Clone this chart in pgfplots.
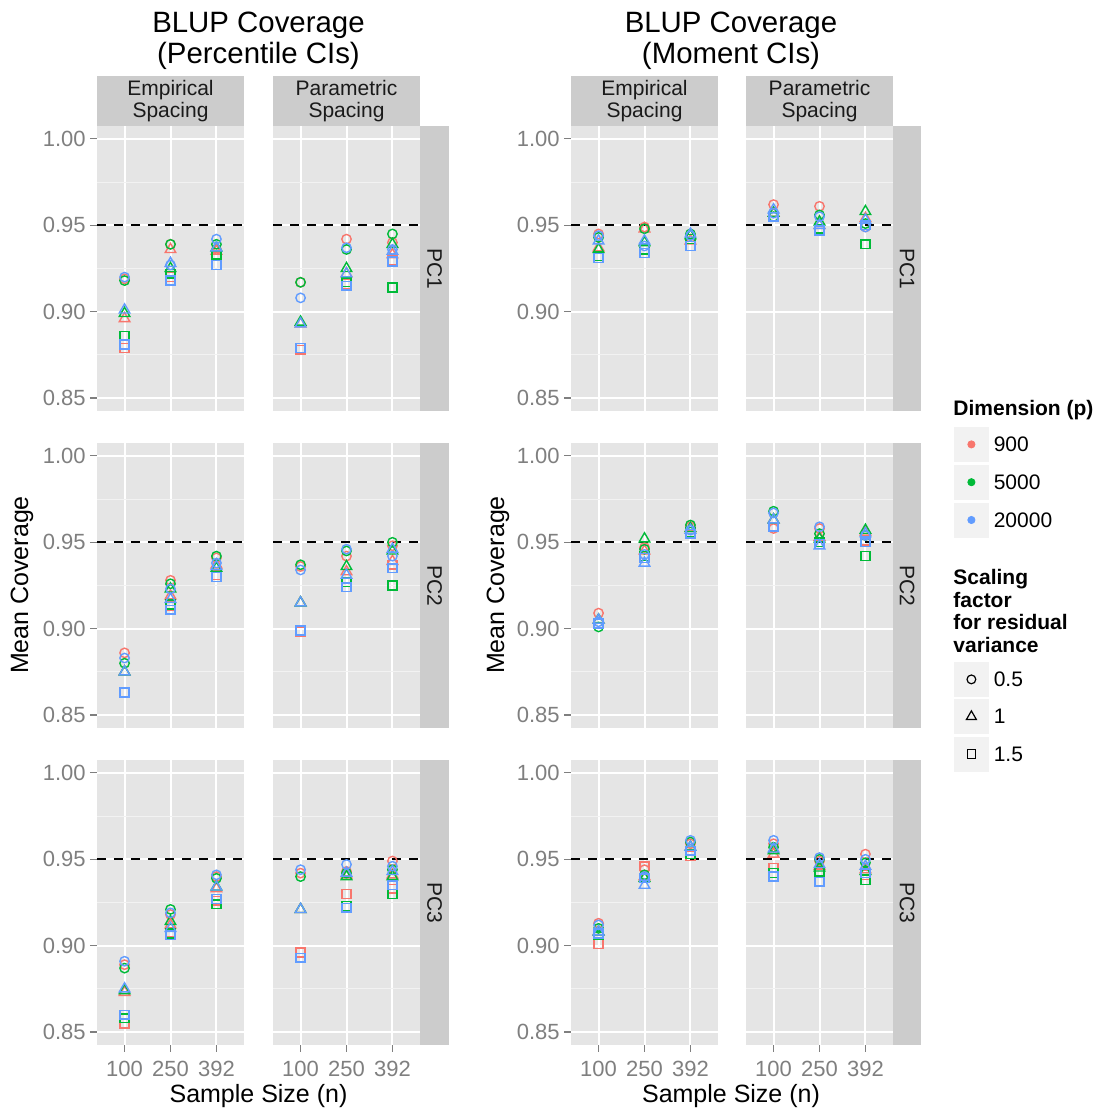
\documentclass[border=0pt]{standalone}
\usepackage{pgfplots}
\pgfplotsset{compat=1.18}
\usepackage{pgfplotstable}
\usepackage{fontspec}
\setmainfont{Liberation Sans}

\definecolor{ggred}{HTML}{F8766D}
\definecolor{gggreen}{HTML}{00BA38}
\definecolor{ggblue}{HTML}{619CFF}
\definecolor{ggpanel}{HTML}{E5E5E5}
\definecolor{ggstrip}{HTML}{CCCCCC}
\definecolor{ggminor}{HTML}{F2F2F2}
\definecolor{ggtick}{HTML}{7F7F7F}
\definecolor{ggstext}{HTML}{1A1A1A}

\newcommand{\fsm}{\fontsize{10.5}{12}\selectfont}
\newcommand{\ftk}{\fontsize{11}{12}\selectfont}
\newcommand{\fax}{\fontsize{12.5}{15}\selectfont}
\newcommand{\fti}{\fontsize{14.7}{16}\selectfont}

% columns: x, red circle/triangle/square, green ..., blue ...
\pgfplotstableread{
x rc rt rs gc gt gs bc bt bs
1 0.919 0.896 0.879 0.918 0.899 0.886 0.920 0.901 0.881
2 0.939 0.936 0.920 0.939 0.925 0.922 0.927 0.928 0.918
3 0.936 0.935 0.932 0.939 0.937 0.933 0.942 0.937 0.927
}\pEa
\pgfplotstableread{
x rc rt rs gc gt gs bc bt bs
1 0.917 0.893 0.878 0.917 0.894 0.879 0.908 0.893 0.879
2 0.942 0.922 0.916 0.936 0.925 0.917 0.937 0.922 0.915
3 0.940 0.933 0.930 0.945 0.939 0.914 0.936 0.935 0.929
}\pPa
\pgfplotstableread{
x rc rt rs gc gt gs bc bt bs
1 0.945 0.937 0.932 0.943 0.936 0.932 0.944 0.941 0.931
2 0.949 0.948 0.936 0.948 0.940 0.936 0.938 0.941 0.934
3 0.944 0.941 0.942 0.945 0.944 0.942 0.944 0.945 0.938
}\mEa
\pgfplotstableread{
x rc rt rs gc gt gs bc bt bs
1 0.962 0.957 0.955 0.955 0.957 0.955 0.957 0.959 0.955
2 0.961 0.950 0.948 0.956 0.952 0.948 0.955 0.950 0.947
3 0.949 0.954 0.950 0.951 0.958 0.939 0.949 0.953 0.950
}\mPa
\pgfplotstableread{
x rc rt rs gc gt gs bc bt bs
1 0.886 0.875 0.863 0.880 0.875 0.863 0.883 0.875 0.863
2 0.928 0.919 0.913 0.926 0.923 0.914 0.923 0.917 0.911
3 0.941 0.937 0.931 0.942 0.935 0.930 0.938 0.936 0.930
}\pEb
\pgfplotstableread{
x rc rt rs gc gt gs bc bt bs
1 0.936 0.915 0.898 0.937 0.915 0.899 0.934 0.915 0.899
2 0.942 0.933 0.927 0.945 0.936 0.927 0.946 0.931 0.924
3 0.948 0.939 0.937 0.950 0.945 0.925 0.942 0.946 0.935
}\pPb
\pgfplotstableread{
x rc rt rs gc gt gs bc bt bs
1 0.909 0.905 0.903 0.901 0.905 0.903 0.904 0.905 0.903
2 0.947 0.945 0.942 0.946 0.952 0.942 0.943 0.938 0.941
3 0.959 0.958 0.956 0.960 0.958 0.956 0.957 0.957 0.955
}\mEb
\pgfplotstableread{
x rc rt rs gc gt gs bc bt bs
1 0.958 0.963 0.959 0.968 0.963 0.959 0.967 0.963 0.959
2 0.958 0.953 0.950 0.955 0.952 0.950 0.959 0.948 0.949
3 0.954 0.956 0.951 0.954 0.957 0.942 0.954 0.955 0.950
}\mPb
\pgfplotstableread{
x rc rt rs gc gt gs bc bt bs
1 0.889 0.873 0.855 0.887 0.874 0.858 0.891 0.875 0.860
2 0.918 0.912 0.908 0.921 0.914 0.907 0.919 0.910 0.906
3 0.940 0.933 0.926 0.939 0.934 0.924 0.941 0.934 0.927
}\pEc
\pgfplotstableread{
x rc rt rs gc gt gs bc bt bs
1 0.942 0.921 0.896 0.940 0.921 0.893 0.944 0.921 0.893
2 0.943 0.941 0.930 0.942 0.940 0.923 0.947 0.942 0.922
3 0.949 0.941 0.933 0.944 0.940 0.930 0.946 0.943 0.935
}\pPc
\pgfplotstableread{
x rc rt rs gc gt gs bc bt bs
1 0.913 0.908 0.901 0.910 0.908 0.906 0.912 0.908 0.907
2 0.944 0.940 0.946 0.941 0.939 0.939 0.940 0.935 0.939
3 0.959 0.957 0.952 0.960 0.957 0.953 0.961 0.957 0.955
}\mEc
\pgfplotstableread{
x rc rt rs gc gt gs bc bt bs
1 0.959 0.953 0.945 0.957 0.955 0.942 0.961 0.956 0.940
2 0.949 0.946 0.942 0.950 0.945 0.943 0.951 0.947 0.937
3 0.953 0.944 0.941 0.948 0.943 0.938 0.950 0.946 0.942
}\mPc

\pgfplotsset{
  mc/.style={only marks, mark=o, mark size=2.35pt, line width=0.7pt},
  mt/.style={only marks, mark=triangle, mark size=3.05pt, line width=0.7pt},
  ms/.style={only marks, mark=square, mark size=2.2pt, line width=0.7pt},
  gg/.style={
    scale only axis, width=73.5pt, height=142.5pt, anchor=south west,
    xmin=0.4, xmax=3.6, ymin=0.8425, ymax=1.0075,
    axis background/.style={fill=ggpanel},
    axis line style={draw=none},
    xtick={1,2,3}, ytick={0.85,0.9,0.95,1},
    minor ytick={0.875,0.925,0.975},
    xmajorgrids, ymajorgrids, yminorgrids,
    major grid style={white, line width=1pt},
    minor grid style={ggminor, line width=0.5pt},
    tick align=outside, tick pos=left,
    major tick length=3.5pt, minor tick length=0pt,
    tick style={ggtick, line width=0.55pt},
    xticklabels={100,250,392},
    yticklabels={0.85,0.90,0.95,1.00},
    tick label style={font=\ftk, text=ggtick},
    xticklabel style={inner sep=4.5pt},
    yticklabel style={inner sep=2pt},
  },
  noy/.style={ymajorticks=false},
  nox/.style={xmajorticks=false},
}

\newcommand{\pts}[1]{%
  \addplot[black, line width=1.1pt, dash pattern=on 4.5pt off 4pt, forget plot] coordinates {(0.4,0.95) (3.6,0.95)};
  \addplot[ggred, mc] table[x=x,y=rc]{#1};
  \addplot[ggred, mt] table[x=x,y=rt]{#1};
  \addplot[ggred, ms] table[x=x,y=rs]{#1};
  \addplot[gggreen, mc] table[x=x,y=gc]{#1};
  \addplot[gggreen, mt] table[x=x,y=gt]{#1};
  \addplot[gggreen, ms] table[x=x,y=gs]{#1};
  \addplot[ggblue, mc] table[x=x,y=bc]{#1};
  \addplot[ggblue, mt] table[x=x,y=bt]{#1};
  \addplot[ggblue, ms] table[x=x,y=bs]{#1};
}

\newcommand{\keybox}{\fill[ggminor] (0pt,-8.5pt) rectangle (17pt,8.5pt);}

\begin{document}
\begin{tikzpicture}
\useasboundingbox (0,0) rectangle (553pt,555pt);

% ---------- panels ----------
\begin{axis}[gg, nox, at={(48.5pt,349.5pt)}] \pts{\pEa} \end{axis}
\begin{axis}[gg, nox, noy, at={(136.5pt,349.5pt)}] \pts{\pPa} \end{axis}
\begin{axis}[gg, nox, at={(48.5pt,191pt)}] \pts{\pEb} \end{axis}
\begin{axis}[gg, nox, noy, at={(136.5pt,191pt)}] \pts{\pPb} \end{axis}
\begin{axis}[gg, at={(48.5pt,32.5pt)}] \pts{\pEc} \end{axis}
\begin{axis}[gg, noy, at={(136.5pt,32.5pt)}] \pts{\pPc} \end{axis}

\begin{axis}[gg, nox, at={(285.5pt,349.5pt)}] \pts{\mEa} \end{axis}
\begin{axis}[gg, nox, noy, at={(373pt,349.5pt)}] \pts{\mPa} \end{axis}
\begin{axis}[gg, nox, at={(285.5pt,191pt)}] \pts{\mEb} \end{axis}
\begin{axis}[gg, nox, noy, at={(373pt,191pt)}] \pts{\mPb} \end{axis}
\begin{axis}[gg, at={(285.5pt,32.5pt)}] \pts{\mEc} \end{axis}
\begin{axis}[gg, noy, at={(373pt,32.5pt)}] \pts{\mPc} \end{axis}

% ---------- top strips ----------
\foreach \xa/\xb/\lab in {48.5/122/Empirical, 136.5/210/Parametric, 285.5/359/Empirical, 373/446.5/Parametric}{
  \fill[ggstrip] (\xa pt,492pt) rectangle (\xb pt,517pt);
  \node[anchor=base, inner sep=0pt, font=\fsm, text=ggstext] at ({(\xa+\xb)/2*1pt},507.25pt) {\lab};
  \node[anchor=base, inner sep=0pt, font=\fsm, text=ggstext] at ({(\xa+\xb)/2*1pt},496.25pt) {Spacing};
}
% ---------- right strips ----------
\foreach \xa/\xb in {210/224.5, 446.5/460.5}{
  \foreach \ya/\lab in {349.5/PC1, 191/PC2, 32.5/PC3}{
    \fill[ggstrip] (\xa pt,\ya pt) rectangle (\xb pt,{(\ya+142.5)*1pt});
    \node[rotate=-90, inner sep=0pt, font=\fsm, text=ggstext] at ({(\xa+\xb)/2*1pt},{(\ya+71.25)*1pt}) {\lab};
  }
}

% ---------- titles ----------
\node[anchor=base, inner sep=0pt, font=\fti] at (129.25pt,538.75pt) {BLUP Coverage};
\node[anchor=base, inner sep=0pt, font=\fti] at (129.25pt,523.25pt) {(Percentile CIs)};
\node[anchor=base, inner sep=0pt, font=\fti] at (365.5pt,538.75pt) {BLUP Coverage};
\node[anchor=base, inner sep=0pt, font=\fti] at (365.5pt,523.25pt) {(Moment CIs)};

\node[rotate=90, inner sep=0pt, font=\fax] at (11pt,262.5pt) {Mean Coverage};
\node[rotate=90, inner sep=0pt, font=\fax] at (249pt,262.5pt) {Mean Coverage};
\node[anchor=base, inner sep=0pt, font=\fax] at (129.25pt,4pt) {Sample Size (n)};
\node[anchor=base, inner sep=0pt, font=\fax] at (365.5pt,4pt) {Sample Size (n)};

% ---------- legends ----------
\node[anchor=base west, inner sep=0pt, font=\fsm\bfseries] at (476.5pt,347.25pt) {Dimension (p)};
\node[anchor=base west, inner sep=0pt, font=\fsm\bfseries] at (476.5pt,262.75pt) {Scaling};
\node[anchor=base west, inner sep=0pt, font=\fsm\bfseries] at (476.5pt,251.25pt) {factor};
\node[anchor=base west, inner sep=0pt, font=\fsm\bfseries] at (476.5pt,240.25pt) {for residual};
\node[anchor=base west, inner sep=0pt, font=\fsm\bfseries] at (476.5pt,228.75pt) {variance};

\begin{axis}[scale only axis, width=10pt, height=10pt, anchor=south west, at={(477pt,331.5pt)},
  hide axis, xmin=0, xmax=1, ymin=0, ymax=1,
  legend cell align=left,
  legend style={at={(0,1)}, anchor=north west, draw=none, fill=none, inner sep=0pt, outer sep=0pt,
    row sep=1.5pt, column sep=2.5pt, font=\fsm, nodes={inner sep=0pt, text depth=0pt}}]
\addlegendimage{legend image code/.code={\keybox\draw[ggred, fill=ggred, only marks, mark=*, mark size=1.8pt] plot coordinates {(8.5pt,0pt)};}}
\addlegendentry{900}
\addlegendimage{legend image code/.code={\keybox\draw[gggreen, fill=gggreen, only marks, mark=*, mark size=1.8pt] plot coordinates {(8.5pt,0pt)};}}
\addlegendentry{5000}
\addlegendimage{legend image code/.code={\keybox\draw[ggblue, fill=ggblue, only marks, mark=*, mark size=1.8pt] plot coordinates {(8.5pt,0pt)};}}
\addlegendentry{20000}
\end{axis}

\begin{axis}[scale only axis, width=10pt, height=10pt, anchor=south west, at={(477pt,214pt)},
  hide axis, xmin=0, xmax=1, ymin=0, ymax=1,
  legend cell align=left,
  legend style={at={(0,1)}, anchor=north west, draw=none, fill=none, inner sep=0pt, outer sep=0pt,
    row sep=1.25pt, column sep=2.5pt, font=\fsm, nodes={inner sep=0pt, text depth=0pt}}]
\addlegendimage{legend image code/.code={\keybox\draw[black, line width=0.6pt, only marks, mark=o, mark size=2.2pt] plot coordinates {(8.5pt,0pt)};}}
\addlegendentry{0.5}
\addlegendimage{legend image code/.code={\keybox\draw[black, line width=0.6pt, only marks, mark=triangle, mark size=2.9pt] plot coordinates {(8.5pt,0pt)};}}
\addlegendentry{1}
\addlegendimage{legend image code/.code={\keybox\draw[black, line width=0.6pt, only marks, mark=square, mark size=2.1pt] plot coordinates {(8.5pt,0pt)};}}
\addlegendentry{1.5}
\end{axis}
\end{tikzpicture}
\end{document}
